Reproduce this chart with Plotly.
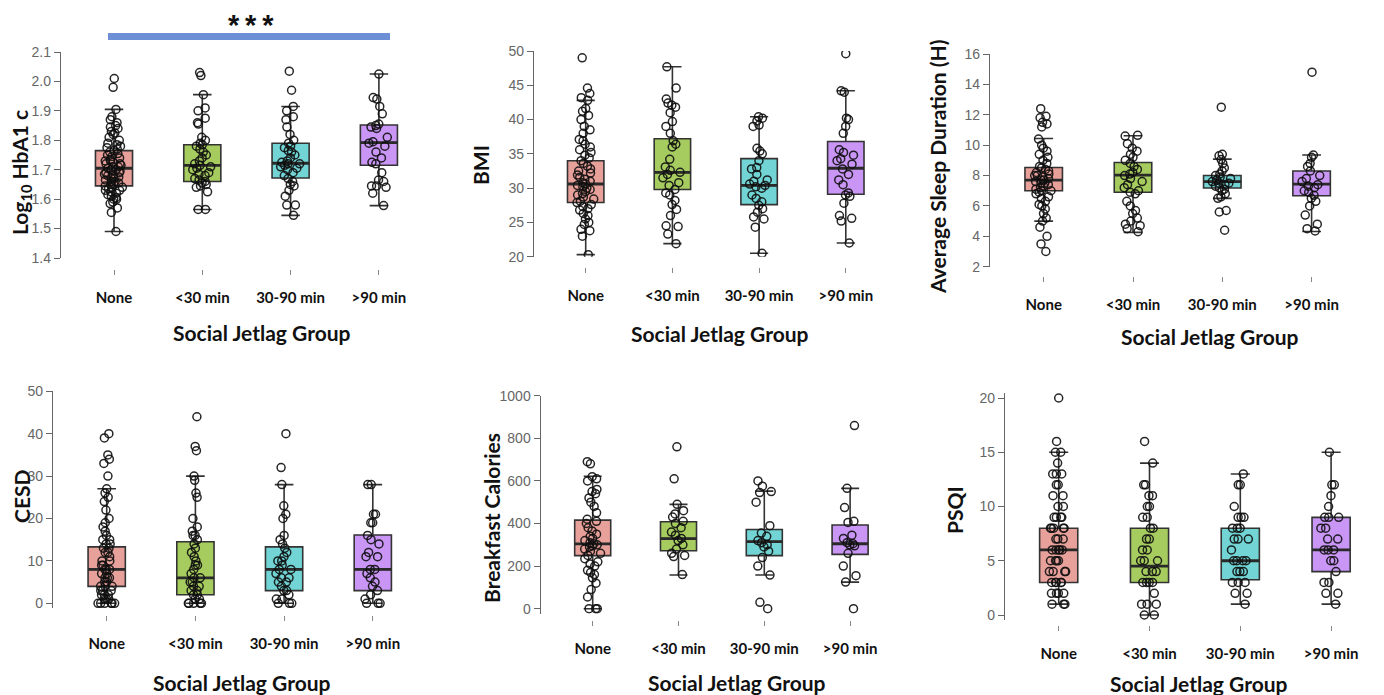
import plotly.graph_objects as go

# ---------------- data ----------------
categories = ["None", "<30 min", "30-90 min", ">90 min"]
box_colors = ["#E8A09B", "#A6CC5F", "#72D4D4", "#C996F5"]

# Log10 HbA1c
hba1c_none = [1.49, 1.555, 1.57, 1.585, 1.59, 1.60, 1.60, 1.605, 1.61, 1.615, 1.62, 1.625, 1.63, 1.63, 1.635,
              1.64, 1.64, 1.645, 1.65, 1.65, 1.655, 1.66, 1.66, 1.665, 1.67, 1.67, 1.675, 1.68, 1.68, 1.685,
              1.69, 1.69, 1.695, 1.70, 1.70, 1.705, 1.71, 1.71, 1.715, 1.72, 1.72, 1.725, 1.73, 1.73, 1.735,
              1.74, 1.745, 1.75, 1.755, 1.76, 1.765, 1.77, 1.775, 1.78, 1.785, 1.79, 1.80, 1.81, 1.82, 1.825,
              1.83, 1.84, 1.845, 1.85, 1.86, 1.87, 1.88, 1.905, 1.98, 2.01]
hba1c_lt30 = [1.565, 1.565, 1.625, 1.64, 1.645, 1.65, 1.655, 1.66, 1.665, 1.67, 1.68, 1.685, 1.69, 1.70, 1.705,
              1.71, 1.715, 1.72, 1.73, 1.74, 1.75, 1.76, 1.77, 1.78, 1.785, 1.79, 1.80, 1.81, 1.855, 1.86,
              1.875, 1.90, 1.91, 1.955, 2.02, 2.03]
hba1c_30_90 = [1.545, 1.58, 1.58, 1.61, 1.63, 1.645, 1.65, 1.66, 1.67, 1.68, 1.69, 1.70, 1.705, 1.71, 1.715,
               1.72, 1.72, 1.725, 1.73, 1.74, 1.75, 1.76, 1.765, 1.775, 1.78, 1.79, 1.80, 1.82, 1.845, 1.87,
               1.88, 1.90, 1.915, 1.97, 2.035]
hba1c_gt90 = [1.578, 1.62, 1.64, 1.645, 1.645, 1.66, 1.665, 1.69, 1.72, 1.725, 1.74, 1.76, 1.78, 1.79, 1.795,
              1.81, 1.84, 1.845, 1.85, 1.855, 1.89, 1.915, 1.94, 1.945, 2.025]
hba1c_q1 = [1.645, 1.660, 1.672, 1.715]
hba1c_med = [1.705, 1.715, 1.722, 1.792]
hba1c_q3 = [1.765, 1.785, 1.790, 1.852]
hba1c_lo = [1.490, 1.565, 1.545, 1.578]
hba1c_hi = [1.905, 1.955, 1.915, 2.025]

# BMI
bmi_none = [20.3, 23.0, 23.8, 24.0, 24.7, 25.0, 25.5, 26.0, 26.3, 26.8, 27.0, 27.3, 27.6, 27.9, 28.1, 28.4,
            28.7, 29.0, 29.2, 29.5, 29.8, 30.0, 30.2, 30.4, 30.6, 30.8, 31.0, 31.3, 31.6, 31.9, 32.2, 32.5,
            32.8, 33.2, 33.6, 34.0, 34.4, 34.8, 35.2, 35.6, 36.0, 36.4, 36.9, 37.1, 38.0, 38.5, 39.0, 40.0,
            40.6, 41.2, 41.6, 42.8, 43.2, 43.8, 44.6, 49.0]
bmi_lt30 = [21.9, 23.3, 24.4, 24.5, 26.0, 26.9, 27.6, 28.2, 29.0, 29.3, 29.8, 30.4, 30.8, 31.5, 32.0, 32.3,
            32.6, 33.1, 34.2, 36.0, 36.4, 36.9, 38.0, 39.0, 39.7, 41.0, 41.8, 42.1, 42.4, 43.0, 44.6, 47.7]
bmi_30_90 = [20.5, 24.3, 25.5, 25.8, 26.5, 27.0, 27.5, 28.0, 28.5, 29.0, 30.0, 30.2, 30.4, 30.6, 31.0, 31.2,
             32.0, 32.8, 33.0, 34.0, 35.0, 35.4, 35.8, 39.0, 39.2, 39.8, 40.2, 40.4]
bmi_gt90 = [22.0, 25.2, 25.6, 26.0, 27.8, 28.8, 29.0, 29.3, 30.5, 31.2, 32.0, 32.8, 33.5, 34.0, 34.3, 34.8,
            35.2, 35.6, 38.0, 39.0, 40.0, 40.2, 44.0, 44.2, 49.6]
bmi_q1 = [27.9, 29.8, 27.6, 29.1]
bmi_med = [30.6, 32.3, 30.4, 32.9]
bmi_q3 = [34.0, 37.2, 34.3, 36.8]
bmi_lo = [20.3, 21.9, 20.5, 22.0]
bmi_hi = [42.8, 47.7, 40.4, 44.2]

# Average sleep duration (h)
sleep_none = [3.0, 3.5, 4.0, 4.6, 5.0, 5.2, 5.5, 5.8, 6.0, 6.1, 6.3, 6.5, 6.6, 6.8, 6.9, 7.0, 7.0, 7.1, 7.2,
              7.3, 7.4, 7.5, 7.5, 7.6, 7.7, 7.7, 7.8, 7.9, 8.0, 8.0, 8.1, 8.2, 8.3, 8.4, 8.5, 8.6, 8.8, 9.0,
              9.2, 9.4, 9.6, 9.8, 10.0, 10.4, 11.2, 11.4, 11.5, 11.8, 11.9, 12.4]
sleep_lt30 = [4.3, 4.5, 4.7, 4.8, 5.0, 5.2, 5.5, 5.7, 6.0, 6.3, 6.8, 6.9, 7.0, 7.2, 7.4, 7.6, 7.8, 8.0, 8.1,
              8.2, 8.4, 8.6, 8.8, 9.0, 9.2, 9.4, 9.6, 9.8, 10.1, 10.6, 10.65]
sleep_30_90 = [4.4, 5.6, 5.7, 6.5, 6.6, 6.8, 7.0, 7.1, 7.2, 7.3, 7.4, 7.5, 7.5, 7.6, 7.7, 7.8, 7.9, 8.0, 8.1,
               8.3, 8.5, 8.8, 9.05, 9.3, 9.4, 12.5]
sleep_gt90 = [4.35, 4.5, 4.8, 5.4, 6.0, 6.3, 6.5, 6.7, 6.9, 7.0, 7.2, 7.3, 7.4, 7.6, 7.8, 8.0, 8.3, 8.6, 8.8,
              9.2, 9.35, 14.8]
sleep_q1 = [7.0, 6.9, 7.18, 6.67]
sleep_med = [7.7, 8.03, 7.6, 7.44]
sleep_q3 = [8.53, 8.86, 8.0, 8.3]
sleep_lo = [5.0, 4.26, 6.5, 4.32]
sleep_hi = [10.44, 10.62, 9.08, 9.35]

# CESD
cesd_none = [0, 0, 0, 0, 0, 0, 1, 1, 1, 2, 2, 2, 3, 3, 3, 4, 4, 4, 5, 5, 6, 6, 6, 7, 7, 8, 8, 8, 9, 9, 10, 10,
             11, 12, 12, 13, 13, 14, 14, 15, 15, 16, 17, 18, 19, 20, 22, 24, 25, 26, 27, 30, 33, 34, 35, 39, 40]
cesd_lt30 = [0, 0, 0, 0, 0, 1, 1, 2, 2, 3, 3, 4, 4, 5, 5, 6, 6, 7, 8, 9, 9, 10, 11, 12, 13, 14, 15, 16, 16, 17,
             18, 20, 25, 26, 29, 30, 36, 37, 44]
cesd_30_90 = [0, 0, 0, 1, 1, 2, 3, 3, 4, 5, 5, 6, 6, 7, 8, 8, 9, 10, 10, 11, 12, 13, 14, 15, 16, 20, 21, 23, 28,
              32, 40]
cesd_gt90 = [0, 0, 0, 1, 2, 3, 4, 5, 6, 7, 8, 8, 11, 11, 12, 14, 15, 16, 19, 19, 21, 21, 28, 28]
cesd_q1 = [4.0, 2.0, 3.0, 3.0]
cesd_med = [8.0, 6.0, 8.0, 8.0]
cesd_q3 = [13.3, 14.5, 13.3, 16.1]
cesd_lo = [0, 0, 0, 0]
cesd_hi = [27, 30, 28, 28]

# Breakfast calories
bfast_none = [0, 0, 0, 55, 90, 120, 145, 160, 170, 180, 200, 210, 220, 235, 250, 260, 270, 280, 290, 295, 300,
              305, 310, 320, 330, 340, 350, 365, 380, 400, 410, 420, 450, 480, 500, 520, 540, 550, 560, 600,
              610, 620, 680, 690]
bfast_lt30 = [160, 245, 250, 260, 280, 300, 320, 330, 345, 360, 380, 400, 410, 430, 445, 460, 490, 610, 760]
bfast_30_90 = [0, 30, 158, 200, 240, 270, 290, 300, 310, 320, 340, 355, 390, 500, 545, 550, 575, 600]
bfast_gt90 = [0, 125, 155, 200, 260, 295, 300, 305, 310, 330, 345, 405, 410, 475, 565, 860]
bfast_q1 = [249, 272, 249, 255]
bfast_med = [304, 329, 315, 305]
bfast_q3 = [416, 408, 372, 393]
bfast_lo = [0, 158, 158, 125]
bfast_hi = [622, 490, 552, 565]

# PSQI
psqi_none = [1, 1, 1, 2, 2, 2, 2, 3, 3, 3, 3, 3, 4, 4, 4, 4, 5, 5, 5, 5, 6, 6, 6, 6, 6, 7, 7, 7, 8, 8, 8, 8, 8,
             9, 9, 9, 9, 10, 10, 11, 11, 12, 12, 13, 13, 13, 14, 15, 15, 16, 20]
psqi_lt30 = [0, 0, 1, 1, 1, 2, 3, 3, 3, 3, 4, 4, 4, 5, 5, 5, 6, 6, 7, 7, 8, 8, 9, 9, 10, 10, 11, 11, 12, 12,
             14, 16]
psqi_30_90 = [1, 2, 2, 3, 3, 3, 4, 4, 4, 5, 5, 5, 5, 6, 7, 7, 7, 8, 8, 8, 9, 9, 9, 10, 12, 12, 13]
psqi_gt90 = [1, 2, 2, 3, 3, 4, 5, 5, 6, 6, 6, 7, 7, 8, 8, 9, 9, 9, 10, 11, 12, 12, 15]
psqi_q1 = [3.0, 3.0, 3.25, 4.0]
psqi_med = [6.0, 4.5, 5.0, 6.0]
psqi_q3 = [8.0, 8.0, 8.0, 9.0]
psqi_lo = [1, 0, 1, 1]
psqi_hi = [15, 14, 13, 15]

panels_data = [
    dict(points=[hba1c_none, hba1c_lt30, hba1c_30_90, hba1c_gt90],
         q1=hba1c_q1, med=hba1c_med, q3=hba1c_q3, lo=hba1c_lo, hi=hba1c_hi,
         ytitle="Log<sub>10</sub> HbA1 c", yrange=(1.4, 2.1), dtick=0.1, fmt=".1f"),
    dict(points=[bmi_none, bmi_lt30, bmi_30_90, bmi_gt90],
         q1=bmi_q1, med=bmi_med, q3=bmi_q3, lo=bmi_lo, hi=bmi_hi,
         ytitle="BMI", yrange=(20, 50), dtick=5, fmt="d"),
    dict(points=[sleep_none, sleep_lt30, sleep_30_90, sleep_gt90],
         q1=sleep_q1, med=sleep_med, q3=sleep_q3, lo=sleep_lo, hi=sleep_hi,
         ytitle="Average Sleep Duration (H)", yrange=(2, 16), dtick=2, fmt="d"),
    dict(points=[cesd_none, cesd_lt30, cesd_30_90, cesd_gt90],
         q1=cesd_q1, med=cesd_med, q3=cesd_q3, lo=cesd_lo, hi=cesd_hi,
         ytitle="CESD", yrange=(0, 50), dtick=10, fmt="d"),
    dict(points=[bfast_none, bfast_lt30, bfast_30_90, bfast_gt90],
         q1=bfast_q1, med=bfast_med, q3=bfast_q3, lo=bfast_lo, hi=bfast_hi,
         ytitle="Breakfast Calories", yrange=(0, 1000), dtick=200, fmt="d"),
    dict(points=[psqi_none, psqi_lt30, psqi_30_90, psqi_gt90],
         q1=psqi_q1, med=psqi_med, q3=psqi_q3, lo=psqi_lo, hi=psqi_hi,
         ytitle="PSQI", yrange=(0, 20), dtick=5, fmt="d"),
]

# ---------------- layout geometry (screen pixels) ----------------
W, H = 1384, 695
OFF = 8  # page body margin: screen px = figure px + OFF
geom = [
    dict(ax=61, cat1=114, sp=88.3, top=52, bot=258, tick=269, xt=(262, 332), yt=(21, 173), padb=0, padt=0),
    dict(ax=534, cat1=585.7, sp=86.7, top=51, bot=256.7, tick=267, xt=(720, 333), yt=(481, 165), padb=0, padt=0),
    dict(ax=990, cat1=1043.7, sp=89.3, top=54, bot=266.7, tick=276, xt=(1210, 336), yt=(937, 167), padb=0, padt=0),
    dict(ax=53, cat1=106.7, sp=88.7, top=391.3, bot=603.3, tick=615, xt=(242, 682), yt=(21, 497), padb=5, padt=0),
    dict(ax=540.7, cat1=592.7, sp=85.8, top=395.7, bot=608.7, tick=620, xt=(737, 682), yt=(491, 518), padb=5, padt=0),
    dict(ax=1005, cat1=1058.7, sp=90.8, top=398, bot=615, tick=625, xt=(1199, 683), yt=(954, 510), padb=5, padt=5),
]


def fx(px):
    return (px - OFF) / W


def fy(py):
    return 1 - (py - OFF) / H


BOX_W = 0.42
fig = go.Figure()
annotations = []
layout_axes = {}
title_font = dict(family="Lato, Open Sans, sans-serif", size=21, color="#111", weight="bold")

for i, (pdat, g) in enumerate(zip(panels_data, geom)):
    n = i + 1
    xa = "x" if n == 1 else f"x{n}"
    ya = "y" if n == 1 else f"y{n}"
    for k in range(4):
        xpos = k + 1
        # box + whiskers
        fig.add_trace(go.Box(
            x=[xpos], q1=[pdat["q1"][k]], median=[pdat["med"][k]], q3=[pdat["q3"][k]],
            lowerfence=[pdat["lo"][k]], upperfence=[pdat["hi"][k]],
            width=BOX_W, whiskerwidth=0.5, fillcolor=box_colors[k],
            line=dict(color="#333333", width=1.6), boxpoints=False,
            xaxis=xa, yaxis=ya, showlegend=False, hoverinfo="skip"))
        # thicker median bar
        fig.add_trace(go.Box(
            x=[xpos], q1=[pdat["med"][k]], median=[pdat["med"][k]], q3=[pdat["med"][k]],
            lowerfence=[pdat["med"][k]], upperfence=[pdat["med"][k]],
            width=BOX_W, whiskerwidth=0, fillcolor="rgba(0,0,0,0)",
            line=dict(color="#2a2a2a", width=2.8), boxpoints=False,
            xaxis=xa, yaxis=ya, showlegend=False, hoverinfo="skip"))
        # jittered individual points
        fig.add_trace(go.Box(
            x=[xpos] * len(pdat["points"][k]), y=pdat["points"][k],
            width=BOX_W, boxpoints="all", jitter=0.55, pointpos=0,
            fillcolor="rgba(0,0,0,0)", line=dict(width=0, color="rgba(0,0,0,0)"),
            marker=dict(symbol="circle-open", size=8, color="rgba(15,15,15,0.9)",
                        line=dict(width=1.5)),
            xaxis=xa, yaxis=ya, showlegend=False, hoverinfo="skip"))

    ymin, ymax = pdat["yrange"]
    span_px = g["bot"] - g["top"]
    upp = (ymax - ymin) / span_px
    right_px = min(g["cat1"] + 3.6 * g["sp"], W - 1)
    x_right = 1 + (right_px - g["cat1"]) / g["sp"]
    x0 = 1 - (g["cat1"] - g["ax"]) / g["sp"]
    ticks = []
    v = ymin
    while v <= ymax + 1e-9:
        ticks.append(round(v, 6))
        v += pdat["dtick"]
    layout_axes["xaxis" if n == 1 else f"xaxis{n}"] = dict(
        domain=[fx(g["ax"]), fx(right_px)], range=[x0, x_right],
        anchor="free", position=fy(g["tick"]), automargin=False,
        tickvals=[1, 2, 3, 4], ticktext=categories,
        ticks="outside", ticklen=5, tickwidth=1, tickcolor="#888",
        showline=False, showgrid=False, zeroline=False, ticklabelstandoff=10,
        tickfont=dict(family="Lato, Open Sans, sans-serif", size=15, color="#111", weight="bold"))
    layout_axes["yaxis" if n == 1 else f"yaxis{n}"] = dict(
        domain=[fy(g["bot"] + g["padb"]), fy(g["top"] - g["padt"])],
        range=[ymin - g["padb"] * upp, ymax + g["padt"] * upp], anchor=xa, automargin=False,
        tickvals=ticks, tickformat=pdat["fmt"],
        ticks="outside", ticklen=6, tickwidth=1.2, tickcolor="#666",
        showline=True, linecolor="#666", linewidth=1.4,
        showgrid=False, zeroline=False,
        tickfont=dict(family="Liberation Sans, Arial, sans-serif", size=14, color="#666"))
    annotations.append(dict(
        text="Social Jetlag Group", x=fx(g["xt"][0]), y=fy(g["xt"][1]),
        xref="paper", yref="paper", showarrow=False, xanchor="center", yanchor="middle",
        font=title_font))
    annotations.append(dict(
        text=pdat["ytitle"], x=fx(g["yt"][0]), y=fy(g["yt"][1]), textangle=-90,
        xref="paper", yref="paper", showarrow=False, xanchor="center", yanchor="middle",
        borderpad=0, font=title_font))

# significance marker
annotations.append(dict(
    text="*\u2009*\u2009*", x=fx(251), y=1, xref="paper", yref="paper", showarrow=False,
    xanchor="center", yanchor="top", borderpad=0,
    font=dict(family="Liberation Sans, Arial, sans-serif", size=29, color="#111", weight="bold")))
shapes = [dict(type="rect", xref="paper", yref="paper", x0=fx(108), x1=fx(390),
               y0=fy(40), y1=fy(33), fillcolor="#6C8FD6", line=dict(width=0))]

fig.update_layout(
    width=W, height=H, margin=dict(l=0, r=0, t=0, b=0, autoexpand=False),
    paper_bgcolor="white", plot_bgcolor="white",
    boxmode="overlay", showlegend=False,
    annotations=annotations, shapes=shapes,
    **layout_axes)

fig.write_html("out.html")
